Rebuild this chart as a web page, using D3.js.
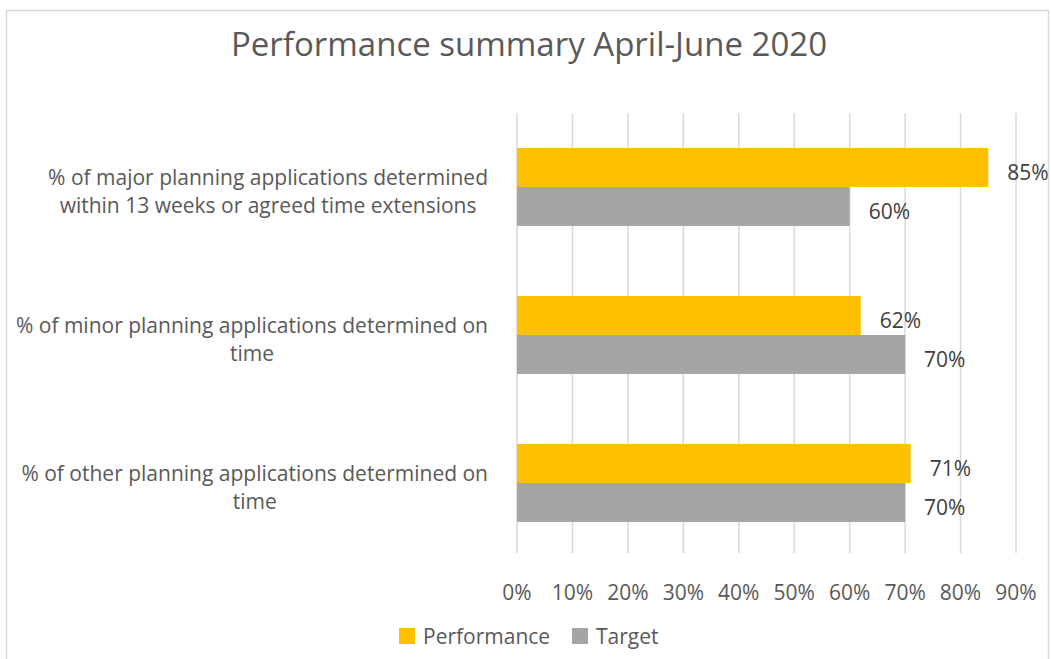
<!DOCTYPE html>
<html>
<head>
<meta charset="utf-8">
<script src="https://cdn.jsdelivr.net/npm/d3@7"></script>
<style>
  html, body { margin: 0; padding: 0; background: #fff; }
  svg text { font-family: "Open Sans", Lato, sans-serif; }
</style>
</head>
<body>
<svg id="chart"></svg>
<script>
// chart data
const categories = [
    ["% of major planning applications determined", "within 13 weeks or agreed time extensions"],
    ["% of minor planning applications determined on", "time"],
    ["% of other planning applications determined on", "time"]
];
const seriesNames = ["Performance", "Target"];
const performance = [0.85, 0.62, 0.71];
const target = [0.60, 0.70, 0.70];
const ticks = [0, 0.1, 0.2, 0.3, 0.4, 0.5, 0.6, 0.7, 0.8, 0.9];

const W = 1051, H = 659;
const margin = {top: 113, right: 35, bottom: 104, left: 517};
const colors = {Performance: "#FFC000", Target: "#A5A5A5"};

const svg = d3.select("#chart")
    .attr("width", W)
    .attr("height", H);

// chart border
svg.append("rect")
    .attr("x", 6.5)
    .attr("y", 10.5)
    .attr("width", 1042)
    .attr("height", 660)
    .attr("fill", "#fff")
    .attr("stroke", "#d9d9d9")
    .attr("stroke-width", 1.5);

// title
svg.append("text")
    .attr("x", 529)
    .attr("y", 56)
    .attr("text-anchor", "middle")
    .attr("fill", "#595959")
    .style("font-size", "33px")
    .text("Performance summary April-June 2020");

const x = d3.scaleLinear()
    .domain([0, 0.9])
    .range([margin.left, W - margin.right]);

const y = d3.scaleBand()
    .domain(d3.range(categories.length))
    .range([margin.top, H - margin.bottom + 2])
    .paddingInner(0)
    .paddingOuter(0);

const inner = d3.scaleBand()
    .domain(seriesNames)
    .range([0, y.bandwidth()])
    .paddingInner(0)
    .paddingOuter(0.9);

// gridlines
svg.append("g")
    .selectAll("line")
    .data(ticks)
    .join("line")
    .attr("x1", d => x(d))
    .attr("x2", d => x(d))
    .attr("y1", margin.top)
    .attr("y2", H - margin.bottom - 2)
    .attr("stroke", "#d9d9d9")
    .attr("stroke-width", 1.5);

// tick labels
svg.append("g")
    .selectAll("text")
    .data(ticks)
    .join("text")
    .attr("x", d => x(d))
    .attr("y", 600)
    .attr("text-anchor", "middle")
    .attr("fill", "#595959")
    .style("font-size", "21px")
    .text(d => d3.format(".0%")(d));

// bars
const rows = categories.map((c, i) => ({
    i,
    values: [
        {name: "Performance", value: performance[i]},
        {name: "Target", value: target[i]}
    ]
}));

const group = svg.append("g")
    .selectAll("g")
    .data(rows)
    .join("g")
    .attr("transform", d => `translate(0,${y(d.i)})`);

group.selectAll("rect")
    .data(d => d.values)
    .join("rect")
    .attr("x", x(0))
    .attr("y", d => inner(d.name))
    .attr("width", d => x(d.value) - x(0))
    .attr("height", inner.bandwidth())
    .attr("fill", d => colors[d.name]);

// data labels
group.selectAll("text")
    .data(d => d.values)
    .join("text")
    .attr("x", d => x(d.value) + 19)
    .attr("y", d => inner(d.name) + inner.bandwidth() / 2)
    .attr("dy", "0.6em")
    .attr("fill", "#404040")
    .style("font-size", "21px")
    .text(d => d3.format(".0%")(d.value));

// category labels, block right aligned, lines centred
const catLabels = svg.append("g")
    .selectAll("text")
    .data(categories)
    .join("text")
    .attr("text-anchor", "middle")
    .attr("fill", "#595959")
    .style("font-size", "21px");

catLabels.each(function(lines, i) {
    const t = d3.select(this);
    const cy = y(i) + y.bandwidth() / 2;
    lines.forEach((line, j) => {
        t.append("tspan")
            .attr("y", cy + 12 + (j - (lines.length - 1) / 2) * 28)
            .text(line);
    });
    let maxW = 0;
    t.selectAll("tspan").each(function() {
        maxW = Math.max(maxW, this.getComputedTextLength());
    });
    t.selectAll("tspan").attr("x", 488 - maxW / 2);
});

// legend
const legend = svg.append("g")
    .attr("transform", "translate(399,628)");

const item = legend.selectAll("g")
    .data(seriesNames)
    .join("g")
    .attr("transform", (d, i) => `translate(${i * 173},0)`);

item.append("rect")
    .attr("width", 16)
    .attr("height", 16)
    .attr("fill", d => colors[d]);

item.append("text")
    .attr("x", 24)
    .attr("y", 16)
    .attr("fill", "#595959")
    .style("font-size", "21px")
    .text(d => d);
</script>
</body>
</html>
